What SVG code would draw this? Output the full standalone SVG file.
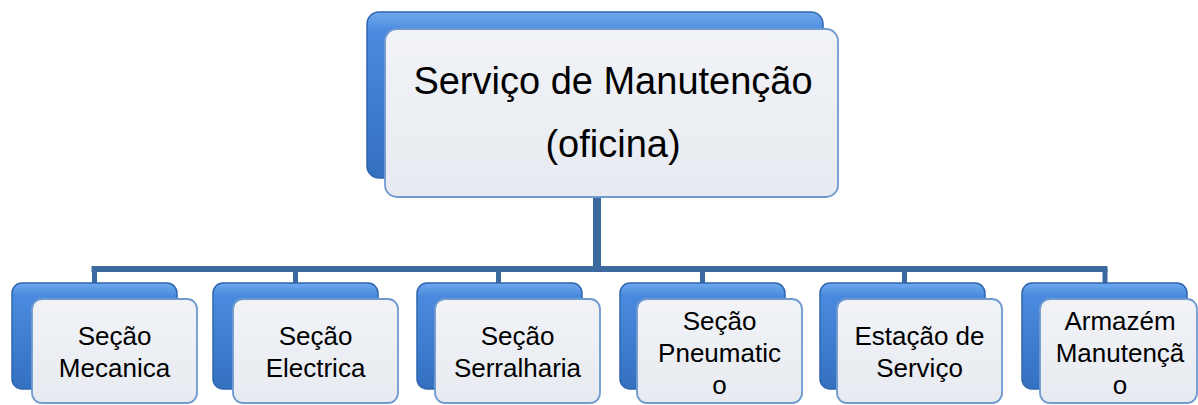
<svg xmlns="http://www.w3.org/2000/svg" width="1198" height="405" viewBox="0 0 1198 405">
<defs>
<linearGradient id="blue" x1="0" y1="0" x2="0" y2="1">
<stop offset="0" stop-color="#6fa9ee"/>
<stop offset="0.12" stop-color="#4a8ade"/>
<stop offset="1" stop-color="#3470c0"/>
</linearGradient>
<linearGradient id="face" x1="0" y1="0" x2="0" y2="1">
<stop offset="0" stop-color="#f1f3f7"/>
<stop offset="1" stop-color="#e7eaf0"/>
</linearGradient>
<style>
.back{fill:url(#blue);stroke:#2f66ad;stroke-width:1.5}
.front{fill:url(#face);stroke:#6f9ad0;stroke-width:1.8}
.t{font-family:"Liberation Sans",Arial,sans-serif;fill:#000;text-anchor:middle}
.big{font-size:38px}
.sm{font-size:26px}
.conn{fill:none;stroke:#3d6a9e;stroke-linecap:butt}
</style>
</defs>
<rect width="1198" height="405" fill="#ffffff"/>
<g id="connectors">
<path class="conn" stroke-width="8" d="M597,197 V269"/>
<path class="conn" stroke-width="6" d="M91.5,269 H1107.5"/>
<path class="conn" stroke-width="5" d="M94.5,269 V284 M295.5,269 V284 M498.5,269 V284 M702.5,269 V284 M904.5,269 V284 M1105,269 V284"/>
</g>
<g id="root">
<rect class="back" x="367" y="12" width="456" height="166" rx="12"/>
<rect class="front" x="385" y="29" width="453" height="168" rx="12"/>
<text class="t big" x="613" y="94">Serviço de Manutenção</text>
<text class="t big" x="613" y="157">(oficina)</text>
</g>
<g id="n1">
<rect class="back" x="12" y="283" width="165" height="106" rx="10"/>
<rect class="front" x="32" y="299" width="165" height="104" rx="10"/>
<text class="t sm" x="114.5" y="345">Seção</text>
<text class="t sm" x="114.5" y="377">Mecanica</text>
</g>
<g id="n2">
<rect class="back" x="213" y="283" width="165" height="106" rx="10"/>
<rect class="front" x="233" y="299" width="165" height="104" rx="10"/>
<text class="t sm" x="315.5" y="345">Seção</text>
<text class="t sm" x="315.5" y="377">Electrica</text>
</g>
<g id="n3">
<rect class="back" x="417" y="283" width="165" height="106" rx="10"/>
<rect class="front" x="435" y="299" width="165" height="104" rx="10"/>
<text class="t sm" x="517.5" y="345">Seção</text>
<text class="t sm" x="517.5" y="377">Serralharia</text>
</g>
<g id="n4">
<rect class="back" x="620" y="283" width="165" height="106" rx="10"/>
<rect class="front" x="637" y="299" width="165" height="104" rx="10"/>
<text class="t sm" x="719.5" y="330">Seção</text>
<text class="t sm" x="719.5" y="362">Pneumatic</text>
<text class="t sm" x="719.5" y="394">o</text>
</g>
<g id="n5">
<rect class="back" x="820" y="283" width="165" height="106" rx="10"/>
<rect class="front" x="837" y="299" width="165" height="104" rx="10"/>
<text class="t sm" x="919.5" y="345">Estação de</text>
<text class="t sm" x="919.5" y="377">Serviço</text>
</g>
<g id="n6">
<rect class="back" x="1022" y="283" width="165" height="106" rx="10"/>
<rect class="front" x="1040" y="299" width="157" height="104" rx="10"/>
<text class="t sm" x="1120" y="330">Armazém</text>
<text class="t sm" x="1120" y="362">Manutençã</text>
<text class="t sm" x="1120" y="394">o</text>
</g>
</svg>
